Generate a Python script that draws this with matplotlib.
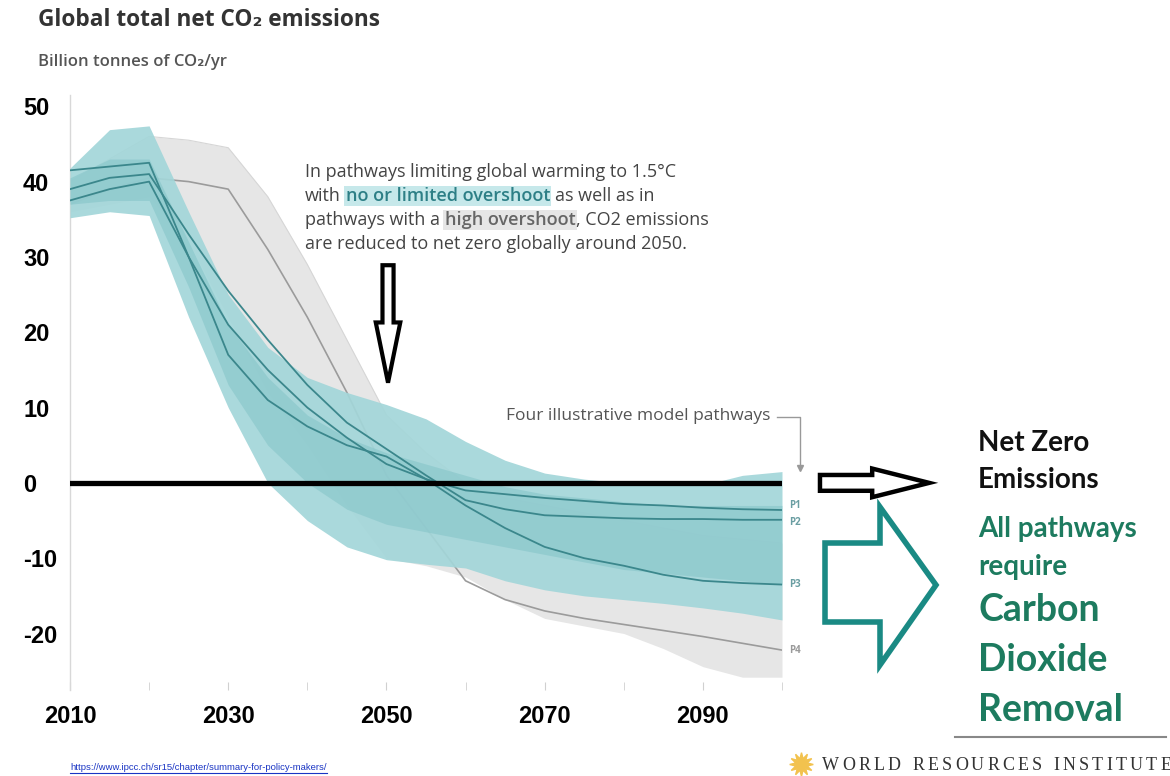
import matplotlib
matplotlib.use("Agg")
import matplotlib.pyplot as plt
import matplotlib.transforms as mtransforms
from matplotlib.lines import Line2D
from matplotlib.patches import FancyArrow, Polygon

plt.rcParams["font.family"] = ["Open Sans", "DejaVu Sans"]

# data (billion tonnes CO2 / yr)
years = [2010, 2015, 2020, 2025, 2030, 2035, 2040, 2045, 2050, 2055,
         2060, 2065, 2070, 2075, 2080, 2085, 2090, 2095, 2100]
teal_hi = [41.8, 46.9, 47.4, 36, 25, 18, 14, 12, 10.4, 8.5,
           5.5, 3, 1.3, 0.5, 0, -0.2, -0.3, 1.0, 1.5]
teal_lo = [35.2, 36, 35.5, 22, 10, 0, -5, -8.5, -10.2, -10.8,
           -11.3, -13, -14.2, -15, -15.5, -16, -16.6, -17.3, -18.2]
teal_core_hi = [40.5, 43, 43, 32, 21, 14, 9, 6, 4, 2.5,
                1, -0.5, -1.5, -2, -2.5, -3, -3, -3, -3]
teal_core_lo = [37, 37.5, 37.5, 26, 13, 5, 0, -3.5, -5.5, -6.5,
                -7.5, -8.5, -9.5, -10.5, -11.5, -12, -12.5, -13, -13.5]
gray_hi = [40, 43, 46, 45.5, 44.5, 38, 29, 19, 9, 4,
           0, -2, -3, -4, -5, -6, -7, -7.5, -8]
gray_lo = [36, 37, 38, 32, 22, 12, 5, -3, -10, -11,
           -12.5, -15.5, -18, -19, -20, -22, -24.4, -25.8, -25.8]
p1 = [37.5, 39, 40, 30, 21, 15, 10, 6, 2.5, 0.5,
      -1, -1.5, -2, -2.4, -2.8, -3, -3.3, -3.5, -3.6]
p2 = [39, 40.5, 41, 33, 25.5, 19, 13, 8, 4.5, 1,
      -2.3, -3.5, -4.3, -4.5, -4.7, -4.8, -4.8, -4.9, -4.9]
p3 = [41.5, 42, 42.5, 30, 17, 11, 7.5, 5, 3.5, 0.5,
      -3, -6, -8.5, -10, -11, -12.2, -13, -13.3, -13.5]
p4 = [37, 39, 40.5, 40, 39, 31, 22, 12, 1, -6,
      -13, -15.5, -17, -18, -18.8, -19.6, -20.4, -21.3, -22.2]

x_labels = [2010, 2030, 2050, 2070, 2090]
x_minor = [2020, 2040, 2060, 2080, 2100]
y_ticks = [-20, -10, 0, 10, 20, 30, 40, 50]

TEAL = "#a3d6d9"
TEAL_CORE = "#86c5c9"
TEAL_LINE = "#3b878c"
GRAY = "#e6e6e6"
GREEN = "#1d7b5f"

W, H = 1170, 776
fig = plt.figure(figsize=(W / 100, H / 100), dpi=100)
# pixel coordinates (origin top-left) for the annotations around the chart
pix = mtransforms.Affine2D().scale(1 / W, -1 / H).translate(0, 1) + fig.transFigure

ax = fig.add_axes([70 / W, 1 - 690 / H, 712 / W, 595 / H])
ax.set_xlim(2010, 2100)
ax.set_ylim(-27.5, 51.5)

ax.fill_between(years, gray_lo, gray_hi, color=GRAY, lw=0, zorder=1)
ax.plot(years, gray_hi, color="#d6d6d6", lw=0.8, zorder=1)
ax.plot(years, p4, color="#9b9b9b", lw=1.2, zorder=2)
ax.fill_between(years, teal_lo, teal_hi, color=TEAL, alpha=0.92, lw=0, zorder=3)
ax.fill_between(years, teal_core_lo, teal_core_hi, color=TEAL_CORE, alpha=0.6, lw=0, zorder=3)
for p in (p1, p2, p3):
    ax.plot(years, p, color=TEAL_LINE, lw=1.3, zorder=4)

ax.axhline(0, xmax=0.997, color="black", lw=3.8, zorder=5)

for name, p, dy, col in (("P1", p1, 3, "#6a9ea2"), ("P2", p2, -2, "#6a9ea2"),
                         ("P3", p3, 0, "#6a9ea2"), ("P4", p4, 0, "#9a9a9a")):
    ax.annotate(name, (years[-1], p[-1]), xytext=(5, dy), textcoords="offset points",
                fontsize=7, color=col, fontweight="bold", va="center", ha="left",
                annotation_clip=False)

for s in ("top", "right", "bottom"):
    ax.spines[s].set_visible(False)
ax.spines["left"].set_color("#d8d8d8")
ax.spines["left"].set_linewidth(1)

ax.set_xticks(x_labels)
ax.set_xticks(x_minor, minor=True)
ax.tick_params(axis="x", which="both", direction="in", length=6, color="#d0d0d0", pad=11)
ax.set_xticklabels([str(v) for v in x_labels], fontsize=17, fontweight="bold",
                   family="Liberation Sans")
ax.set_yticks(y_ticks)
ax.set_yticklabels([str(v) for v in y_ticks], fontsize=17, fontweight="bold",
                   family="Liberation Sans")
ax.tick_params(axis="y", length=0, pad=33.8)
for lbl in ax.get_yticklabels():
    lbl.set_ha("left")

# down arrow at 2050
ax.add_patch(FancyArrow(2050.2, 28.9, 0, -15.6, width=1.4, head_width=3.1, head_length=8.0,
                        length_includes_head=True, fc="white", ec="black", lw=3, zorder=6))

# titles
fig.text(38, 20, "Global total net CO₂ emissions", transform=pix, fontsize=16.3,
         fontweight="bold", color="#333333", va="center")
fig.text(38, 62, "Billion tonnes of CO₂/yr", transform=pix, fontsize=12,
         fontweight="semibold", color="#555555", va="center")

renderer = fig.canvas.get_renderer()


def width_of(t):
    return t.get_window_extent(renderer).width


def text_runs(x, y, parts, size):
    probe = fig.text(0, 0, "a a", fontsize=size)
    probe2 = fig.text(0, 0, "aa", fontsize=size)
    space = width_of(probe) - width_of(probe2)
    probe.remove()
    probe2.remove()
    for s, style, gap in parts:
        t = fig.text(x, y, s, transform=pix, fontsize=size, va="center", ha="left", **style)
        x += width_of(t) + (space if gap else 1)


plain = dict(color="#444444")
hl_teal = dict(color="#2d7f86", fontweight="semibold",
               bbox=dict(boxstyle="square,pad=0.08", fc="#c6e8ea", ec="none"))
hl_gray = dict(color="#666666", fontweight="semibold",
               bbox=dict(boxstyle="square,pad=0.08", fc="#e6e6e6", ec="none"))
note_size = 13
text_runs(305, 172, [("In pathways limiting global warming to 1.5°C", plain, True)], note_size)
text_runs(305, 196, [("with", plain, True), ("no or limited overshoot", hl_teal, True),
                     ("as well as in", plain, True)], note_size)
text_runs(305, 220, [("pathways with a", plain, True), ("high overshoot", hl_gray, False),
                     (", CO2 emissions", plain, True)], note_size)
text_runs(305, 244, [("are reduced to net zero globally around 2050.", plain, True)], note_size)

fig.text(770, 416, "Four illustrative model pathways", transform=pix, fontsize=12.5,
         color="#555555", ha="right", va="center")
fig.add_artist(Line2D([777, 800, 800], [417, 417, 466], transform=pix, color="#999999", lw=1))
fig.add_artist(Line2D([800], [468], transform=pix, marker="v", markersize=4,
                      color="#999999", lw=0))

# right-hand arrows
ax.add_patch(FancyArrow(2104.8, 0, 13.8, 0, width=2.1, head_width=3.8, head_length=7.2,
                        length_includes_head=True, fc="white", ec="black", lw=3.2,
                        clip_on=False, zorder=6))
fig.add_artist(Polygon([(825, 543), (880, 543), (880, 507), (936, 585), (880, 665),
                        (880, 622), (825, 622)], closed=True, transform=pix,
                       fc="white", ec="#1a8a84", lw=4, joinstyle="miter"))

right_font = ["Lato", "DejaVu Sans"]
for txt, yy, col, size in (("Net Zero", 443, "#111111", 20), ("Emissions", 480, "#111111", 20),
                           ("All pathways", 529, GREEN, 20), ("require", 567, GREEN, 20),
                           ("Carbon", 610, GREEN, 27), ("Dioxide", 660, GREEN, 27),
                           ("Removal", 710, GREEN, 27)):
    fig.text(978, yy, txt, transform=pix, fontsize=size, fontweight="bold", color=col,
             va="center", ha="left", family=right_font)

fig.add_artist(Line2D([955, 1166], [737, 737], transform=pix, color="#888888", lw=1.5))
fig.add_artist(Line2D([801], [764], transform=pix, marker=(12, 1, 0), markersize=17,
                      color="#f2c24e", lw=0))

# letter-spaced institute name
xw = 822
for ch in "WORLD RESOURCES INSTITUTE":
    t = fig.text(xw, 765, ch, transform=pix, fontsize=13, family="Liberation Serif",
                 color="#333333", va="center", ha="left")
    xw += (width_of(t) if ch != " " else 5) + 3.2

url = fig.text(70, 767, "https://www.ipcc.ch/sr15/chapter/summary-for-policy-makers/",
               transform=pix, fontsize=6.8, color="#1a35c4", va="center", ha="left",
               family="Liberation Sans")
uw = width_of(url)
fig.add_artist(Line2D([70, 70 + uw], [773, 773], transform=pix, color="#1a35c4", lw=0.8))

fig.savefig("out.png", dpi=100, facecolor="white")
